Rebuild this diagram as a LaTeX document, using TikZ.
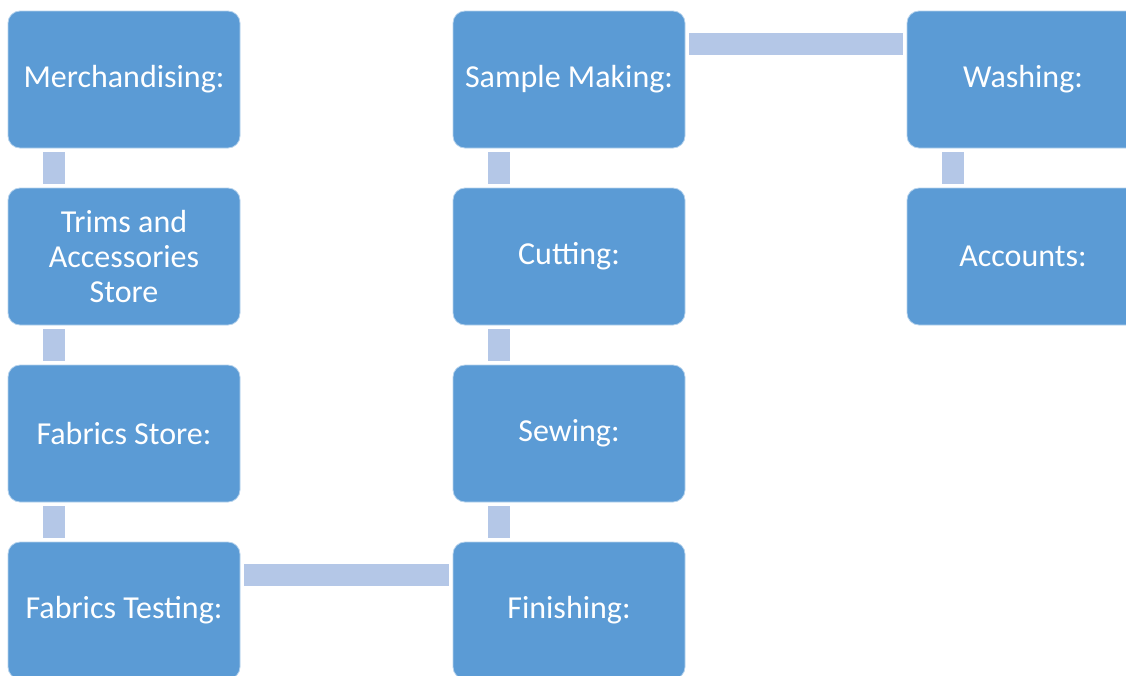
\documentclass[tikz,border=0pt]{standalone}
\usepackage{fontspec}
\setmainfont{Carlito}
\definecolor{boxblue}{HTML}{5B9BD5}
\definecolor{linkblue}{HTML}{B4C7E7}

\begin{document}
\begin{tikzpicture}[x=0.75pt, y=-0.75pt,
  box/.style={draw=white!55!boxblue, line width=0.6pt, fill=boxblue,
    rounded corners=9pt, minimum width=174pt, minimum height=102.75pt,
    inner sep=0pt, align=center, text=white,
    font=\fontsize{24}{26.25}\selectfont},
  link/.style={draw=linkblue, line width=16.5pt, shorten <=3pt, shorten >=3pt}]

  \useasboundingbox (0,0) rectangle (1126,675);

  % -- Left column --
  \node[box] (merch) at (124, 79.5) {Merchandising:};
  \node[box] (trims) at (124, 256.5) {Trims and\\Accessories\\Store};
  \node[box] (fstore) at (124, 433.5) {Fabrics Store:};
  \node[box] (ftest) at (124, 610.5) {Fabrics Testing:};

  % -- Middle column --
  \node[box] (sample) at (569, 79.5) {Sample Making:};
  \node[box] (cut) at (569, 256.5) {Cutting:};
  \node[box] (sew) at (569, 433.5) {Sewing:};
  \node[box] (finish) at (569, 610.5) {Finishing:};

  % -- Right column --
  \node[box] (wash) at (1023, 79.5) {Washing:};
  \node[box] (acc) at (1023, 256.5) {Accounts:};

  % -- Down links --
  \draw[link] ([xshift=34.5pt]merch.south west) -- ([xshift=34.5pt]trims.north west);
  \draw[link] ([xshift=34.5pt]trims.south west) -- ([xshift=34.5pt]fstore.north west);
  \draw[link] ([xshift=34.5pt]fstore.south west) -- ([xshift=34.5pt]ftest.north west);
  \draw[link] ([xshift=34.5pt]sample.south west) -- ([xshift=34.5pt]cut.north west);
  \draw[link] ([xshift=34.5pt]cut.south west) -- ([xshift=34.5pt]sew.north west);
  \draw[link] ([xshift=34.5pt]sew.south west) -- ([xshift=34.5pt]finish.north west);
  \draw[link] ([xshift=34.5pt]wash.south west) -- ([xshift=34.5pt]acc.north west);

  % -- Across links --
  \draw[link] ([yshift=-24.75pt]ftest.north east) -- ([yshift=-24.75pt]finish.north west);
  \draw[link] ([yshift=-24.75pt]sample.north east) -- ([yshift=-24.75pt]wash.north west);

\end{tikzpicture}
\end{document}
